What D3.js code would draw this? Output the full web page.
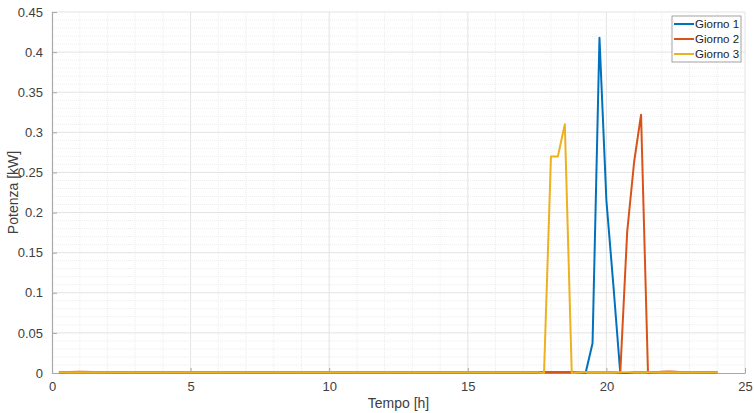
<!DOCTYPE html>
<html>
<head>
<meta charset="utf-8">
<script src="https://cdn.jsdelivr.net/npm/d3@7"></script>
<style>
  html, body { margin: 0; padding: 0; background: #fff; }
  svg { display: block; font-family: "Liberation Sans", Arial, sans-serif; }
</style>
</head>
<body>
<svg id="chart" width="754" height="413"></svg>
<script>
// Power profile over one day, sampled every quarter hour (only changes listed)
const seriesNames = ["Giorno 1", "Giorno 2", "Giorno 3"];
const seriesColors = ["#0072BD", "#D95319", "#EDB120"];

const giorno1Time = [0.25, 19, 19.25, 19.5, 19.75, 20, 20.25, 20.5, 20.75, 21, 24];
const giorno1     = [0.001, 0.001, 0, 0.037, 0.418, 0.215, 0.11, 0, 0, 0.001, 0.001];

const giorno2Time = [0.25, 1, 2, 20.25, 20.5, 20.75, 21, 21.25, 21.5, 21.75, 22, 22.25, 22.5, 22.75, 24];
const giorno2     = [0.001, 0.0015, 0.001, 0.001, 0, 0.176, 0.263, 0.322, 0, 0.001, 0.0015, 0.002, 0.0015, 0.001, 0.001];

const giorno3Time = [0.25, 17.5, 17.75, 18, 18.25, 18.5, 18.75, 19, 24];
const giorno3     = [0.001, 0.001, 0, 0.270, 0.270, 0.310, 0, 0.001, 0.001];

const xTicks = [0, 5, 10, 15, 20, 25];
const yTicks = [0, 0.05, 0.1, 0.15, 0.2, 0.25, 0.3, 0.35, 0.4, 0.45];
const yTickLabels = ["0", "0.05", "0.1", "0.15", "0.2", "0.25", "0.3", "0.35", "0.4", "0.45"];

const svg = d3.select("#chart");
const plotLeft = 52, plotRight = 745, plotTop = 12, plotBottom = 373;

const x = d3.scaleLinear().domain([0, 25]).range([plotLeft, plotRight]);
const y = d3.scaleLinear().domain([0, 0.45]).range([plotBottom, plotTop]);

// minor grid
const g = svg.append("g");
g.append("g").selectAll("line").data(d3.range(0, 26, 1).filter(v => v % 5 !== 0))
  .join("line").attr("x1", d => x(d)).attr("x2", d => x(d))
  .attr("y1", plotTop).attr("y2", plotBottom)
  .attr("stroke", "#ececec").attr("stroke-width", 1).attr("stroke-dasharray", "1,1");
g.append("g").selectAll("line").data(d3.range(1, 45).filter(v => v % 5 !== 0).map(v => v / 100))
  .join("line").attr("x1", plotLeft).attr("x2", plotRight)
  .attr("y1", d => y(d)).attr("y2", d => y(d))
  .attr("stroke", "#ececec").attr("stroke-width", 1).attr("stroke-dasharray", "1,1");
// major grid
g.append("g").selectAll("line").data(xTicks.slice(1))
  .join("line").attr("x1", d => x(d)).attr("x2", d => x(d))
  .attr("y1", plotTop).attr("y2", plotBottom)
  .attr("stroke", "#e3e3e3").attr("stroke-width", 1);
g.append("g").selectAll("line").data(yTicks.slice(1))
  .join("line").attr("x1", plotLeft).attr("x2", plotRight)
  .attr("y1", d => y(d)).attr("y2", d => y(d))
  .attr("stroke", "#e3e3e3").attr("stroke-width", 1);

// axes with inward ticks
const xAxis = d3.axisBottom(x).tickValues(xTicks).tickSizeInner(-5).tickSizeOuter(0).tickPadding(9);
const yAxis = d3.axisLeft(y).tickValues(yTicks).tickSizeInner(-5).tickSizeOuter(0).tickPadding(9)
  .tickFormat((d, i) => yTickLabels[i]);

const gx = svg.append("g").attr("transform", `translate(0,${plotBottom})`).call(xAxis);
const gy = svg.append("g").attr("transform", `translate(${plotLeft},0)`).call(yAxis);
[gx, gy].forEach(a => {
  a.select(".domain").attr("stroke", "#a8a8a8").attr("stroke-width", 1.2);
  a.selectAll(".tick line").attr("stroke", "#a8a8a8");
  a.selectAll(".tick text").attr("fill", "#404040").style("font-size", "13px")
    .style("font-family", "'Liberation Sans', Arial, sans-serif");
});

// series
const line = d3.line().x(d => x(d[0])).y(d => y(d[1]));
const series = [
  d3.zip(giorno1Time, giorno1),
  d3.zip(giorno2Time, giorno2),
  d3.zip(giorno3Time, giorno3)
];
series.forEach((s, i) => {
  svg.append("path").datum(s).attr("d", line)
    .attr("fill", "none").attr("stroke", seriesColors[i])
    .attr("stroke-width", 2).attr("stroke-linejoin", "round");
});

// axis titles
svg.append("text").attr("x", (plotLeft + plotRight) / 2).attr("y", 408)
  .attr("text-anchor", "middle").attr("fill", "#404040").style("font-size", "14px")
  .text("Tempo [h]");
svg.append("text").attr("transform", `translate(18,${(plotTop + plotBottom) / 2}) rotate(-90)`)
  .attr("text-anchor", "middle").attr("fill", "#404040").style("font-size", "14px")
  .text("Potenza [kW]");

// legend
const lg = svg.append("g").attr("transform", "translate(672,16)");
lg.append("rect").attr("width", 69).attr("height", 46)
  .attr("fill", "#fff").attr("stroke", "#8a8a8a").attr("stroke-width", 0.8);
seriesNames.forEach((n, i) => {
  const yy = 8 + i * 15;
  lg.append("line").attr("x1", 2).attr("x2", 22).attr("y1", yy).attr("y2", yy)
    .attr("stroke", seriesColors[i]).attr("stroke-width", 2);
  lg.append("text").attr("x", 23).attr("y", yy).attr("dy", "0.36em")
    .attr("fill", "#222").style("font-size", "11.5px").text(n);
});
</script>
</body>
</html>
